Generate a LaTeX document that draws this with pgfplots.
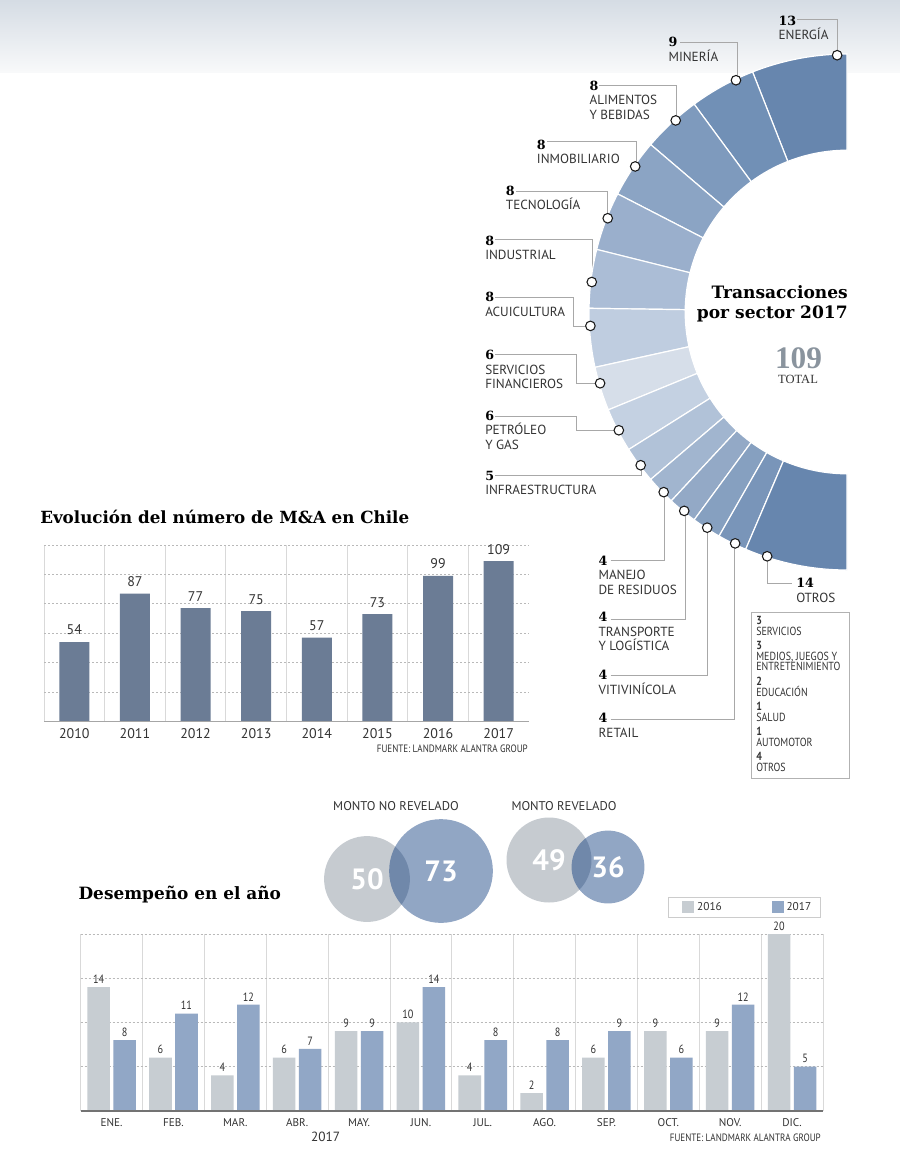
\documentclass[border=0pt]{standalone}
\usepackage{fontspec}
\setmainfont{PT Sans}
\newfontfamily\titlefont{DejaVu Serif}
\newfontfamily\numserif{Liberation Serif}
\newfontfamily\condfont{PT Sans}[FakeStretch=0.85]
\usepackage{pgfplots}
\pgfplotsset{compat=1.18}
\pgfkeys{/pgf/number format/assume math mode=true}

\definecolor{bar1}{HTML}{6B7C95}
\definecolor{g16}{HTML}{C7CDD2}
\definecolor{b17}{HTML}{91A7C6}
\definecolor{vgray}{HTML}{C6CBD0}
\definecolor{vblueA}{HTML}{003178}
\definecolor{txt}{HTML}{333333}
\definecolor{lead}{HTML}{A8A8A8}
\definecolor{g109}{HTML}{8A949E}
\definecolor{topg}{HTML}{D5DCE4}
\definecolor{topg2}{HTML}{F8F9FA}
\definecolor{s1}{HTML}{6786AE}
\definecolor{s2}{HTML}{7190B6}
\definecolor{s3}{HTML}{7E9ABD}
\definecolor{s4}{HTML}{8BA4C4}
\definecolor{s5}{HTML}{9AAFCC}
\definecolor{s6}{HTML}{ABBDD6}
\definecolor{s7}{HTML}{BFCDE0}
\definecolor{s8}{HTML}{D6DEE9}
\definecolor{s9}{HTML}{C4D1E2}
\definecolor{s10}{HTML}{B1C2D8}
\definecolor{s11}{HTML}{A1B5CF}
\definecolor{s12}{HTML}{93A9C6}
\definecolor{s13}{HTML}{86A0C0}
\definecolor{s14}{HTML}{7995B9}
\definecolor{s15}{HTML}{6786AE}

\newcommand\labfont{\fontsize{9.9}{11}\selectfont}
\newcommand\numfont{\titlefont\bfseries\fontsize{9.5}{11}\selectfont}
\newcommand\lab[5]{%
 \node[anchor=base west, inner sep=0pt, font=\numfont, text=black] at ({#1},{#2}) {#3};
 \node[anchor=base west, inner sep=0pt, font=\labfont, text=txt] at ({#1},{#2+14.7}) {#4};
 \node[anchor=base west, inner sep=0pt, font=\labfont, text=txt] at ({#1},{#2+29.2}) {#5};}
\newcommand\bx[3]{\node[anchor=base west, inner sep=0pt, font=#3, text=txt] at (756,{#1}) {#2};}
\newcommand\bxn{\condfont\bfseries\fontsize{8.8}{9}\selectfont}
\newcommand\bxt{\condfont\fontsize{8.8}{9}\selectfont}
% circle radius (pt) proportional to the square root of the value
\pgfmathsetmacro\rA{4.5525*sqrt(50)}
\pgfmathsetmacro\rB{4.5525*sqrt(73)}
\pgfmathsetmacro\rC{4.5525*sqrt(49)}
\pgfmathsetmacro\rD{4.5525*sqrt(36)}

\begin{document}
\begin{tikzpicture}
\begin{scope}[x=0.75pt,y=-0.75pt]
\path[use as bounding box] (0,0) rectangle (900,1172);
\fill[white] (0,0) rectangle (900,1172);
\shade[top color=topg, bottom color=topg2] (0,0) rectangle (900,72);

% ---------- leader lines ----------
\begin{scope}[lead, line width=0.75pt]
\draw (797,19.5) -| (837,55);
\draw (680,42.3) -| (737,82);
\draw (599,85.3) -| (676,121);
\draw (547,141.7) -| (636,167);
\draw (516,191) -| (607,218);
\draw (495,239) -| (592,282);
\draw (495,297.7) -- (573.3,297.7) -- (573.3,326) -- (592,326);
\draw (495,354.3) -- (576.7,354.3) -- (576.7,383) -- (601,383);
\draw (495,416.7) -- (576.7,416.7) -- (576.7,430) -- (619,430);
\draw (495,475.7) -| (641,465);
\draw (610.7,560.7) -| (664,492);
\draw (610.7,619) -| (685,510);
\draw (610.7,675.7) -| (707,528);
\draw (610.7,719) -| (734,546);
\draw (767,557) |- (791.7,583.3);
\end{scope}
\end{scope}

% ---------- donut ----------
\begin{axis}[at={(635.25pt,-234pt)}, anchor=origin, scale only axis,
  width=202.5pt, height=397.5pt, xmin=-265, xmax=5, ymin=-265, ymax=265,
  hide axis, clip=false]
\gdef\cum{0}
\foreach \v/\c in {13/s1,9/s2,8/s3,8/s4,8/s5,8/s6,8/s7,6/s8,6/s9,5/s10,4/s11,4/s12,4/s13,4/s14,14/s15}{%
  \pgfmathsetmacro\sa{90+\cum/109*180}%
  \pgfmathsetmacro\sb{90+(\cum+\v)/109*180}%
  \edef\temp{\noexpand\fill[\c, draw=white, line width=0.9pt] (axis cs:0,0) ++(\sa:193.5pt) arc[start angle=\sa, end angle=\sb, radius=193.5pt] -- ++(\sb:-72.15pt) arc[start angle=\sb, end angle=\sa, radius=121.35pt] -- cycle;}%
  \temp
  \pgfmathsetmacro\newcum{\cum+\v}\global\let\cum\newcum
}
\addplot[only marks, mark=*, mark size=3.6pt,
  mark options={fill=white, draw=black!90, line width=0.8pt}, data cs=polar]
  coordinates {(92.2,257)(115.6,257)(131.8,257)(145.5,257)(158.6,257)(173.3,257)(183.1,257)
  (196.1,257)(207.4,257)(216.6,257)(224.5,257)(230.7,257)(237.05,257)(244.2,257)(251.9,257)};
\end{axis}

\begin{scope}[x=0.75pt,y=-0.75pt]
% ---------- donut labels ----------
\lab{778.3}{25}{13}{ENERGÍA}{}
\lab{668.3}{46.7}{9}{MINERÍA}{}
\lab{589.3}{90}{8}{ALIMENTOS}{Y BEBIDAS}
\lab{536.7}{149}{8}{INMOBILIARIO}{}
\lab{505.7}{195}{8}{TECNOLOGÍA}{}
\lab{485}{245}{8}{INDUSTRIAL}{}
\lab{485}{301.7}{8}{ACUICULTURA}{}
\lab{485}{359.5}{6}{SERVICIOS}{FINANCIEROS}
\lab{485}{420}{6}{PETRÓLEO}{Y GAS}
\lab{485}{480}{5}{INFRAESTRUCTURA}{}
\lab{598.3}{565}{4}{MANEJO}{DE RESIDUOS}
\lab{598.3}{621.7}{4}{TRANSPORTE}{Y LOGÍSTICA}
\lab{598.3}{679.3}{4}{VITIVINÍCOLA}{}
\lab{598.3}{722.7}{4}{RETAIL}{}
\lab{796}{587.3}{14}{OTROS}{}

\node[anchor=base east, inner sep=0pt, font=\titlefont\bfseries\fontsize{12.8}{15}\selectfont] at (848,298.3) {Transacciones};
\node[anchor=base east, inner sep=0pt, font=\titlefont\bfseries\fontsize{12.8}{15}\selectfont] at (848,318.3) {por sector 2017};
\node[anchor=base, inner sep=0pt, font=\numserif\bfseries\fontsize{23.5}{25}\selectfont, text=g109] at (798.5,368.5) {109};
\node[anchor=base, inner sep=0pt, font=\numserif\fontsize{9.4}{11}\selectfont, text=txt] at (798,383.3) {TOTAL};

% ---------- box ----------
\draw[gray!60, line width=0.75pt] (751,612) rectangle (849,778);
\bx{624.3}{3}{\bxn}
\bx{635}{SERVICIOS}{\bxt}
\bx{649}{3}{\bxn}
\bx{660}{MEDIOS, JUEGOS Y}{\bxt}
\bx{670.7}{ENTRETENIMIENTO}{\bxt}
\bx{685.7}{2}{\bxn}
\bx{696.7}{EDUCACIÓN}{\bxt}
\bx{710.7}{1}{\bxn}
\bx{721.7}{SALUD}{\bxt}
\bx{735.7}{1}{\bxn}
\bx{746.7}{AUTOMOTOR}{\bxt}
\bx{760.7}{4}{\bxn}
\bx{771.7}{OTROS}{\bxt}

\node[anchor=base west, inner sep=0pt, font=\titlefont\bfseries\fontsize{12.55}{14}\selectfont] at (40,523.3) {Evolución del número de M\&A en Chile};
\node[anchor=base east, inner sep=0pt, font=\condfont\fontsize{8}{9}\selectfont, text=txt] at (528,752.7) {FUENTE: LANDMARK ALANTRA GROUP};
\node[anchor=base, inner sep=0pt, font=\fontsize{9.5}{11}\selectfont, text=txt] at (396,810) {MONTO NO REVELADO};
\node[anchor=base, inner sep=0pt, font=\fontsize{9.5}{11}\selectfont, text=txt] at (564,810) {MONTO REVELADO};
\node[anchor=base west, inner sep=0pt, font=\titlefont\bfseries\fontsize{12.7}{14}\selectfont] at (78.3,899.3) {Desempeño en el año};
\node[anchor=base, inner sep=0pt, font=\fontsize{10}{12}\selectfont, text=txt] at (325.7,1141.7) {2017};
\node[anchor=base east, inner sep=0pt, font=\condfont\fontsize{8}{9}\selectfont, text=txt] at (821,1141) {FUENTE: LANDMARK ALANTRA GROUP};
\end{scope}

% ---------- chart 1 ----------
\begin{axis}[at={(33pt,-541.125pt)}, anchor=south west, scale only axis,
  width=363.75pt, height=132.4pt,
  xmin=2009.5, xmax=2017.5, ymin=0, ymax=120,
  ybar, bar width=22.5pt,
  axis line style={draw=none},
  ytick={20,40,...,120}, yticklabels={},
  ymajorgrids, major grid style={gray!55, line width=0.5pt, dash pattern=on 1.5pt off 1.5pt},
  xtick={2010,2011,2012,2013,2014,2015,2016,2017},
  xticklabels={2010,2011,2012,2013,2014,2015,2016,2017},
  minor xtick={2009.5,2010.5,2011.5,2012.5,2013.5,2014.5,2015.5,2016.5},
  xminorgrids, minor grid style={gray!30, line width=0.6pt},
  tick style={draw=none},
  x tick label style={inner sep=0pt, anchor=north, yshift=-1pt, font=\fontsize{10.5}{12}\selectfont, text=txt},
  nodes near coords,
  every node near coord/.append style={inner sep=0pt, yshift=5pt, font=\fontsize{10.5}{12}\selectfont, text=txt},
  clip=false]
\addplot[fill=bar1, draw=none] coordinates {(2010,54)(2011,87)(2012,77)(2013,75)(2014,57)(2015,73)(2016,99)(2017,109)};
\draw[gray!70, line width=0.75pt] (rel axis cs:0,0) -- (rel axis cs:1,0);
\end{axis}

% ---------- venn ----------
\begin{axis}[at={(225pt,-592.5pt)}, anchor=north west, scale only axis,
  width=300pt, height=112.5pt, xmin=300, xmax=700, ymin=790, ymax=940, y dir=reverse,
  hide axis, clip=false,
  venn/.style={only marks, mark=*, point meta=explicit, nodes near coords,
    every node near coord/.append style={anchor=center, inner sep=0pt, text=white, opacity=1, text opacity=1, fill opacity=1, font=\bfseries\fontsize{22}{24}\selectfont}}]
\addplot[venn, mark size=\rA pt, mark options={fill=vgray, draw opacity=0}] coordinates {(367,879) [50]};
\addplot[venn, mark size=\rC pt, mark options={fill=vgray, draw opacity=0}] coordinates {(549,860) [49]};
\addplot[venn, mark size=\rB pt, mark options={fill=vblueA, fill opacity=0.431, draw opacity=0}] coordinates {(441,871) [73]};
\addplot[venn, mark size=\rD pt, mark options={fill=vblueA, fill opacity=0.431, draw opacity=0}] coordinates {(608,867) [36]};
\end{axis}

% ---------- chart 2 ----------
\begin{axis}[at={(60.525pt,-833.025pt)}, anchor=south west, scale only axis,
  width=556.7pt, height=132.5pt,
  xmin=0.5, xmax=12.5, ymin=0, ymax=20,
  ybar, bar width=16.9pt,
  axis line style={draw=none},
  ytick={5,10,15,20}, yticklabels={},
  ymajorgrids, major grid style={gray!55, line width=0.5pt, dash pattern=on 1.5pt off 1.5pt},
  xtick={1,...,12},
  xticklabels={ENE.,FEB.,MAR.,ABR.,MAY.,JUN.,JUL.,AGO.,SEP.,OCT.,NOV.,DIC.},
  minor xtick={0.5,1.5,...,12.5},
  xminorgrids, minor grid style={gray!30, line width=0.6pt},
  tick style={draw=none},
  x tick label style={inner sep=0pt, anchor=north, yshift=-1.2pt, font=\fontsize{8.4}{10}\selectfont, text=txt},
  nodes near coords,
  every node near coord/.append style={inner sep=0pt, yshift=2.5pt, font=\condfont\fontsize{9}{10}\selectfont, text=txt},
  legend columns=2,
  legend image code/.code={\path (0pt,0pt); \fill[#1] (5.5pt,-4.5pt) rectangle (14.5pt,4.5pt);},
  legend style={at={(rel axis cs:0.9973,1)}, anchor=south east, yshift=12.5pt,
    draw=gray!40, line width=0.6pt, font=\fontsize{8.5}{10}\selectfont, text=txt,
    inner xsep=5pt, inner ysep=1.5pt,
    /tikz/every even column/.append style={column sep=30pt}},
  clip=false]
\addplot[fill=g16, draw=none, bar shift=-9.75pt] coordinates {(1,14)(2,6)(3,4)(4,6)(5,9)(6,10)(7,4)(8,2)(9,6)(10,9)(11,9)(12,20)};
\addplot[fill=b17, draw=none, bar shift=9.75pt] coordinates {(1,8)(2,11)(3,12)(4,7)(5,9)(6,14)(7,8)(8,8)(9,9)(10,6)(11,12)(12,5)};
\legend{2016,2017}
\draw[black!55, line width=1.5pt] (rel axis cs:0,0) -- (rel axis cs:1,0);
\end{axis}
\end{tikzpicture}
\end{document}
